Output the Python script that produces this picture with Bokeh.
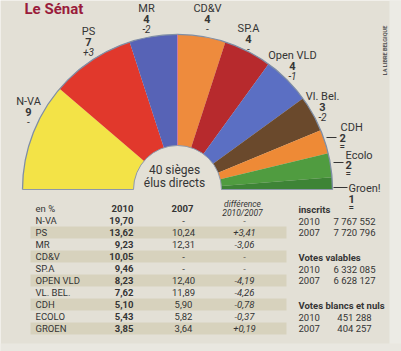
import math
from bokeh.plotting import figure
from bokeh.models import Range1d, ColumnDataSource
from bokeh.core.properties import value
from bokeh.embed import file_html
from bokeh.resources import INLINE

# ---------------- data ----------------
parties = ["N-VA", "PS", "MR", "CD&V", "SP.A", "Open VLD", "Vl. Bel.", "CDH", "Ecolo", "Groen!"]
seats = [9, 7, 4, 4, 4, 4, 3, 2, 2, 1]
seat_change = ["-", "+3", "-2", "-", "-", "-1", "-2", "=", "=", "="]
colors = ["#f3e347", "#e1382c", "#5763b6", "#ee8b3d", "#b72a2d", "#5b6fc3", "#6a492c", "#ee8a36", "#509c40", "#3e8436"]

table_parties = ["N-VA", "PS", "MR", "CD&V", "SP.A", "OPEN VLD", "VL. BEL.", "CDH", "ECOLO", "GROEN"]
pct_2010 = [19.70, 13.62, 9.23, 10.05, 9.46, 8.23, 7.62, 5.10, 5.43, 3.85]
pct_2007 = [None, 10.24, 12.31, None, None, 12.40, 11.89, 5.90, 5.82, 3.64]
pct_diff = [None, 3.41, -3.06, None, None, -4.19, -4.26, -0.78, -0.37, 0.19]

stat_groups = ["inscrits", "Votes valables", "Votes blancs et nuls"]
stat_years = ["2010", "2007"]
stat_values = [[7767552, 7720796], [6332085, 6628127], [451288, 404257]]

title = "Le Sénat"
center_text = ["40 sièges", "élus directs"]

# ---------------- layout ----------------
W, H = 401, 351
BG = "#e3e0d6"
INK = "#353535"
FONT = "Roboto"

def Y(y):
    return H - y

p = figure(width=W, height=H, x_range=Range1d(0, W), y_range=Range1d(0, H),
           output_backend="svg", toolbar_location=None, min_border=0,
           x_axis_location=None, y_axis_location=None)
p.grid.visible = False
p.outline_line_color = None
p.background_fill_color = BG
p.border_fill_color = BG

# page margin strips
p.quad(left=[389], right=[W], bottom=[0], top=[H], color="#ecebe5", line_color=None)
p.quad(left=[0], right=[W], bottom=[0], top=[Y(343)], color="#e9e7e0", line_color=None)

# table stripes (odd rows)
row_y0, row_dy = 220, 12
stripe_rows = [i for i in range(len(table_parties)) if i % 2 == 1]
p.quad(left=[30] * len(stripe_rows), right=[286] * len(stripe_rows),
       bottom=[Y(row_y0 + row_dy * i + row_dy / 2) for i in stripe_rows],
       top=[Y(row_y0 + row_dy * i - row_dy / 2) for i in stripe_rows],
       color="#d7d2bd", line_color=None)

# ---------------- hemicycle ----------------
cx, cy = 177, Y(189)
r_in, r_out = 44, 155
total = sum(seats)
starts, ends, cum = [], [], 0
for s in seats:
    ends.append(math.pi - cum * math.pi / total)
    cum += s
    starts.append(math.pi - cum * math.pi / total)
src = ColumnDataSource(dict(start=starts, end=ends, color=colors))
p.annular_wedge(x=cx, y=cy, inner_radius=r_in, outer_radius=r_out,
                start_angle="start", end_angle="end", fill_color="color",
                line_color=None, source=src)
p.arc(x=cx, y=cy, radius=r_out, start_angle=0, end_angle=math.pi,
      line_color="#7f8ea6", line_width=1.3)
p.arc(x=cx, y=cy, radius=r_in, start_angle=0, end_angle=math.pi,
      line_color="#8d98aa", line_width=1)
p.segment(x0=[cx - r_out, cx + r_in], y0=[cy, cy], x1=[cx - r_in, cx + r_out], y1=[cy, cy],
          line_color="#8d98aa", line_width=1)

# separator between MR and CD&V (pinkish line)
p.segment(x0=[cx], y0=[cy + r_in], x1=[cx], y1=[cy + r_out], line_color="#c77aa6", line_width=1)

# party labels (top labels: name / seats / change stacked, centred)
LS = "11px"
label_pos = [(28, 101), (88, 31), (146, 8), (207, 8), (248, 28), (292, 55), (322, 96)]
for i, (lx, ly) in enumerate(label_pos):
    p.text(x=[lx], y=[Y(ly)], text=[parties[i]], text_font=value(FONT), text_font_size=LS,
           text_color=INK, text_align="center", text_baseline="middle")
    p.text(x=[lx], y=[Y(ly + 10)], text=[str(seats[i])], text_font=value(FONT), text_font_size=LS,
           text_font_style="bold", text_color=INK, text_align="center", text_baseline="middle")
    ch = seat_change[i]
    p.text(x=[lx], y=[Y(ly + 20)], text=[ch], text_font=value(FONT), text_font_size="10px",
           text_font_style="italic" if ch not in ("-", "=") else "normal",
           text_color=INK, text_align="center", text_baseline="middle")

# side labels with leader lines
side = [  # name xy, leader (x0,x1,y), seat xy
    ((340, 127), (326, 336, 137), (339, 137)),
    ((345, 155), (333, 343, 162), (345, 164)),
    ((348, 188), (333, 347, 187), (348, 198)),
]
for k, (nxy, lead, sxy) in enumerate(side):
    i = 7 + k
    p.segment(x0=[lead[0]], y0=[Y(lead[2])], x1=[lead[1]], y1=[Y(lead[2])], line_color=INK, line_width=1)
    p.text(x=[nxy[0]], y=[Y(nxy[1])], text=[parties[i]], text_font=value(FONT), text_font_size=LS,
           text_color=INK, text_align="left", text_baseline="middle")
    p.text(x=[sxy[0]], y=[Y(sxy[1])], text=[str(seats[i])], text_font=value(FONT), text_font_size=LS,
           text_font_style="bold", text_color=INK, text_align="left", text_baseline="middle")
    p.text(x=[sxy[0]], y=[Y(sxy[1] + 9)], text=[seat_change[i]], text_font=value(FONT), text_font_size="10px",
           text_color=INK, text_align="left", text_baseline="middle")

# centre text
p.text(x=[174, 174], y=[Y(169), Y(182)], text=center_text, text_font=value(FONT), text_font_size="12px",
       text_color=INK, text_align="center", text_baseline="middle")

# title (cropped at top like the scan)
p.text(x=[24], y=[Y(8)], text=[title], text_font=value(FONT), text_font_size="15px",
       text_font_style="bold", text_color="#9a1c3b", text_align="left", text_baseline="alphabetic")

# vertical credit
p.text(x=[384], y=[Y(50)], text=["LA LIBRE BELGIQUE"], angle=math.pi / 2, text_font=value(FONT),
       text_font_size="5.5px", text_font_style="bold", text_color="#555555",
       text_align="center", text_baseline="middle")

# ---------------- results table ----------------
def fmt(v, signed=False):
    if v is None:
        return "-"
    s = f"{v:+.2f}" if signed else f"{v:.2f}"
    return s.replace(".", ",")

TS = "9.5px"
p.text(x=[35], y=[Y(208)], text=["en %"], text_font=value(FONT), text_font_size=TS,
       text_color=INK, text_align="left", text_baseline="middle")
p.text(x=[122], y=[Y(208)], text=["2010"], text_font=value(FONT), text_font_size=TS,
       text_font_style="bold", text_color=INK, text_align="center", text_baseline="middle")
p.text(x=[182], y=[Y(208)], text=["2007"], text_font=value(FONT), text_font_size=TS,
       text_font_style="bold", text_color=INK, text_align="center", text_baseline="middle")
p.text(x=[242, 242], y=[Y(203), Y(212)], text=["différence", "2010/2007"], text_font=value(FONT),
       text_font_size="8.5px", text_font_style="italic", text_color=INK,
       text_align="center", text_baseline="middle")

ry = [Y(row_y0 + row_dy * i) for i in range(len(table_parties))]
p.text(x=[35] * len(ry), y=ry, text=table_parties, text_font=value(FONT), text_font_size=TS,
       text_color=INK, text_align="left", text_baseline="middle")
p.text(x=[133] * len(ry), y=ry, text=[fmt(v) for v in pct_2010], text_font=value(FONT),
       text_font_size=TS, text_font_style="bold", text_color=INK, text_align="right", text_baseline="middle")
p.text(x=[183] * len(ry), y=ry, text=[fmt(v) for v in pct_2007], text_font=value(FONT),
       text_font_size=TS, text_color=INK, text_align="center", text_baseline="middle")
p.text(x=[244] * len(ry), y=ry, text=[fmt(v, True) for v in pct_diff], text_font=value(FONT),
       text_font_size=TS, text_font_style="italic", text_color=INK, text_align="center", text_baseline="middle")

# ---------------- turnout block ----------------
def num(n):
    return f"{n:,}".replace(",", " ")

gy = [209, 257, 305]
for g, name in enumerate(stat_groups):
    p.text(x=[298], y=[Y(gy[g])], text=[name], text_font=value(FONT), text_font_size="9.5px",
           text_font_style="bold", text_color=INK, text_align="left", text_baseline="middle")
    for j, yr in enumerate(stat_years):
        yy = Y(gy[g] + 11.5 * (j + 1))
        p.text(x=[298], y=[yy], text=[yr], text_font=value(FONT), text_font_size=TS,
               text_color=INK, text_align="left", text_baseline="middle")
        p.text(x=[354], y=[yy], text=[num(stat_values[g][j])], text_font=value(FONT), text_font_size=TS,
               text_color=INK, text_align="center", text_baseline="middle")

open("out.html", "w").write(file_html(p, INLINE))
